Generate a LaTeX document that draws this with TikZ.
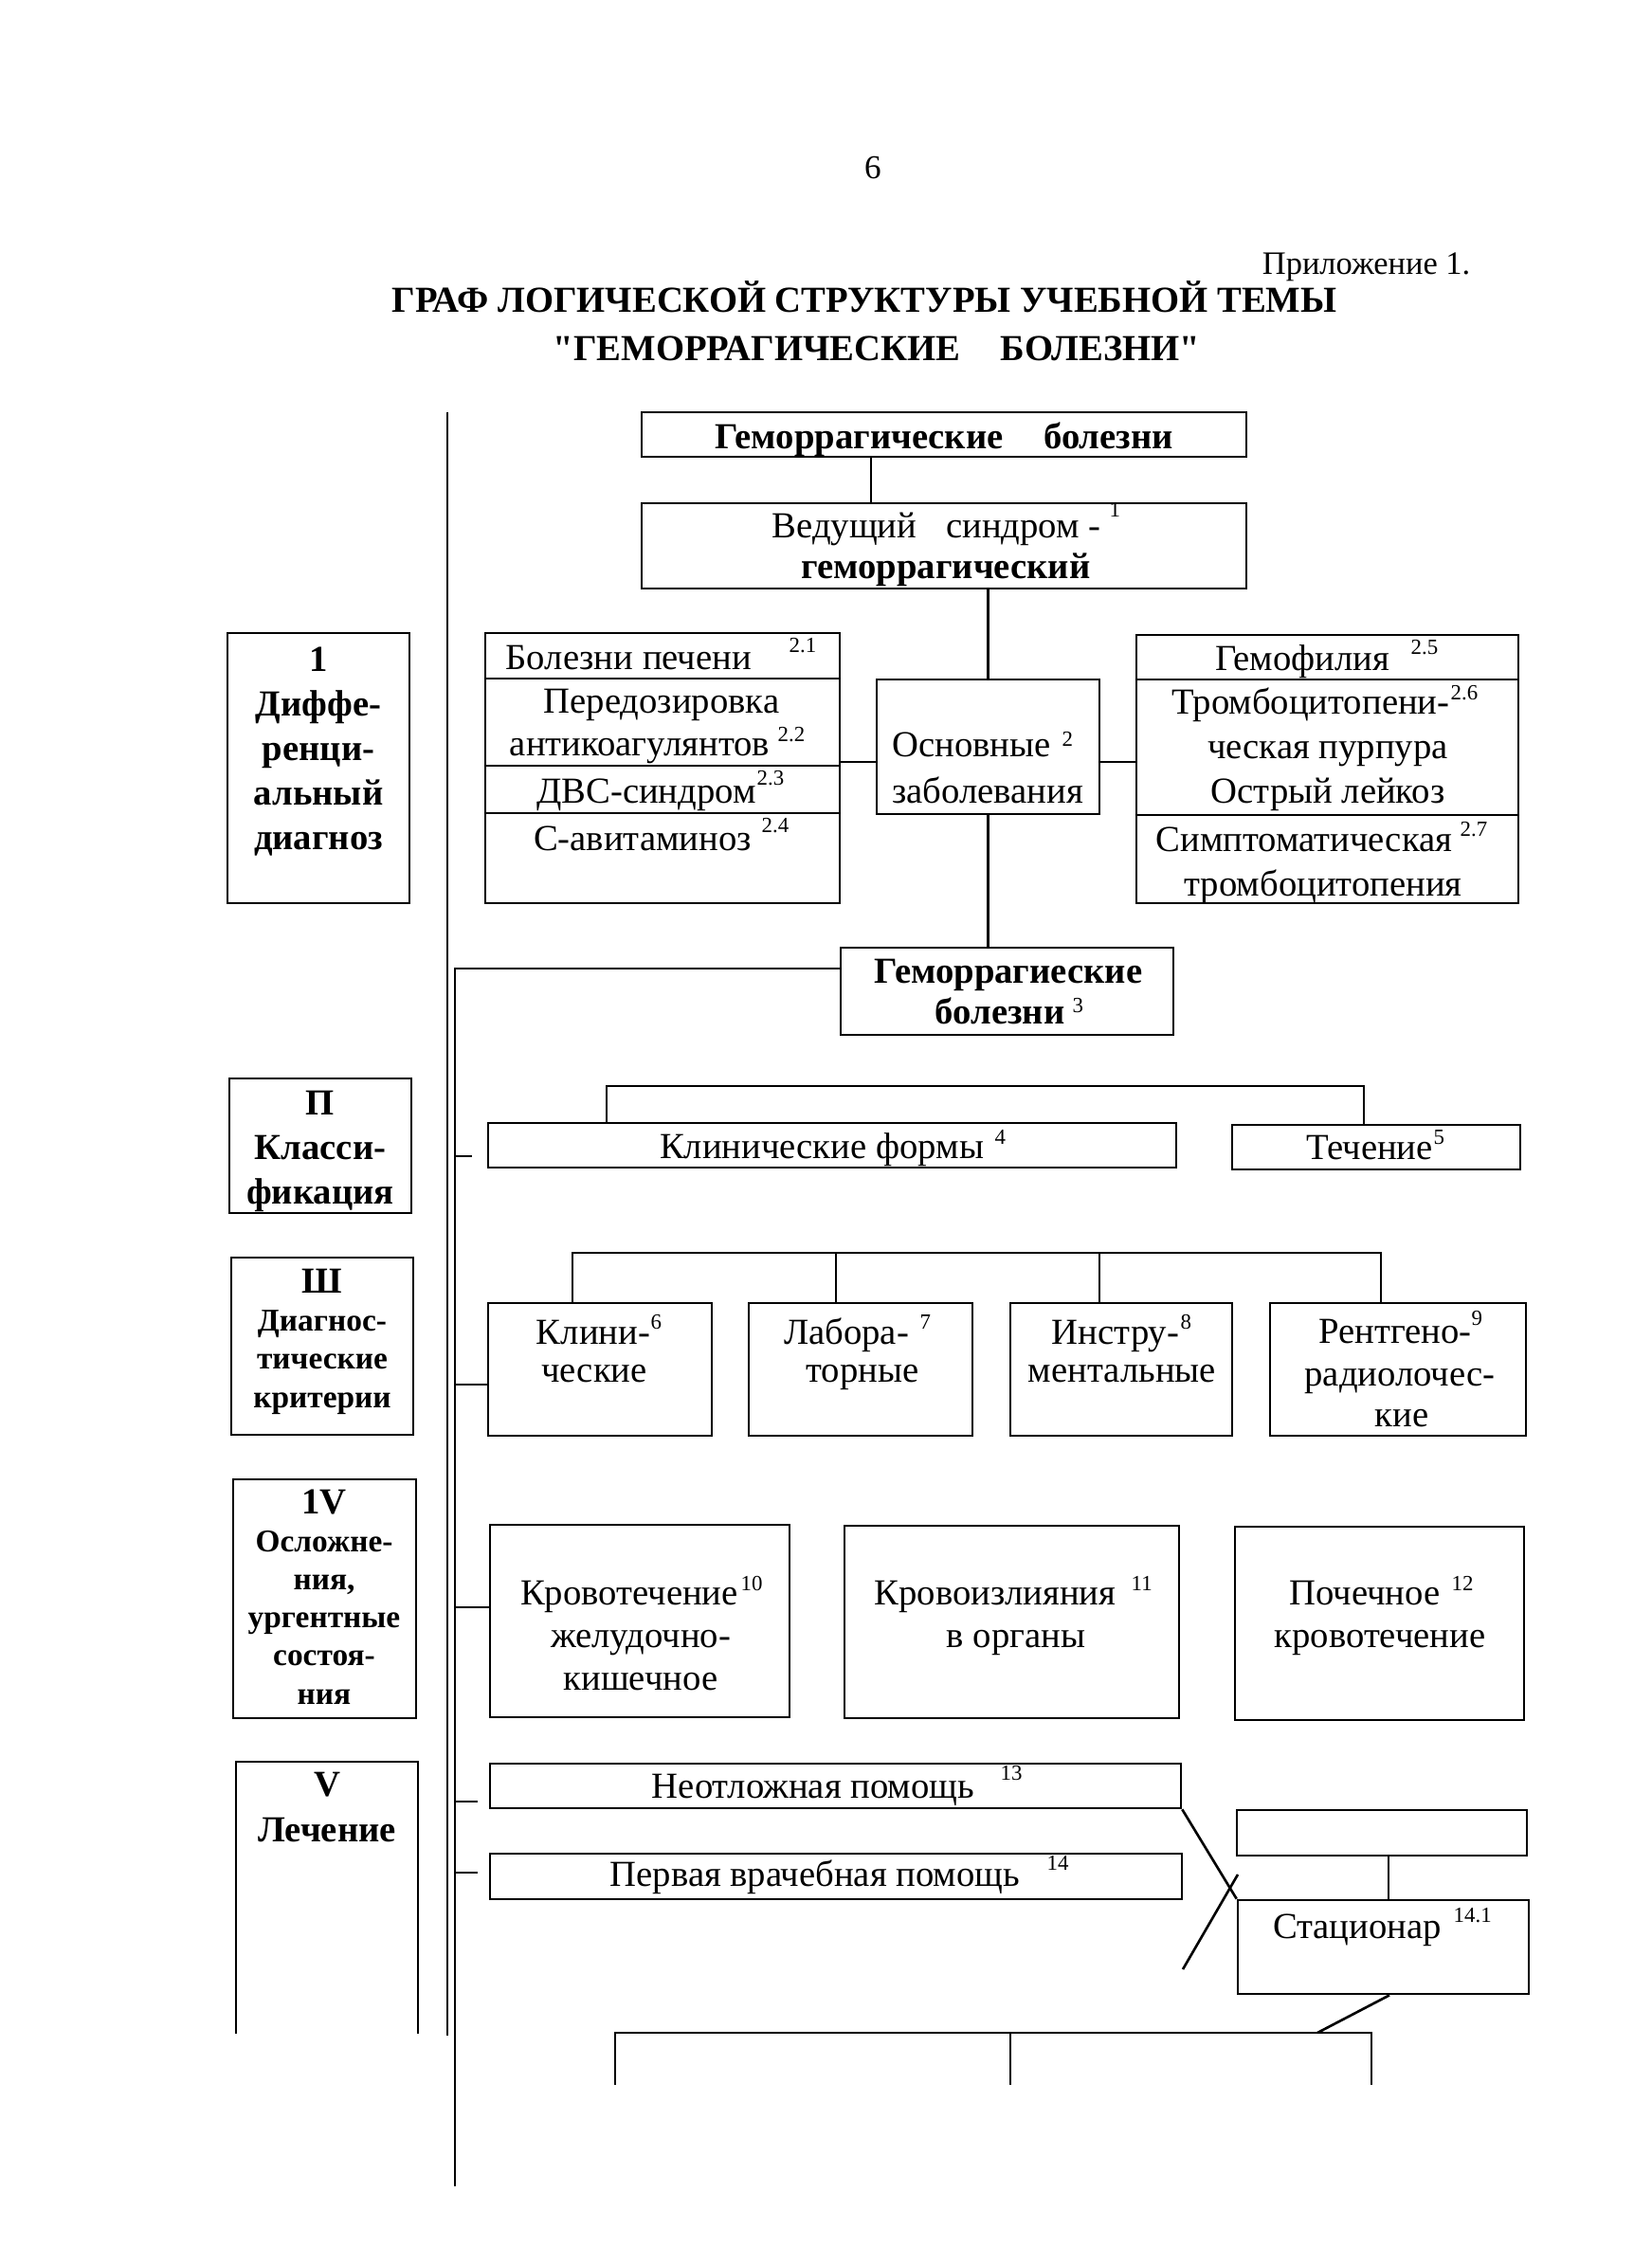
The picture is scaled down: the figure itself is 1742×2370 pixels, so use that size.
\documentclass[tikz,border=0pt]{standalone}
\usepackage{fontspec}
\setmainfont{Liberation Serif}
\newfontfamily\qf{Liberation Serif}
\usetikzlibrary{fit}
\newcommand\fsz[2]{\fontsize{#1}{#2}\selectfont}
\newcommand\qq{{\qf\bfseries"}}
\newcommand\bx[5]{\node[box, fit={(#2,#3) (#4,#5)}] (#1) {};}
\tikzset{
  ln/.style={line width=0.75pt},
  box/.style={draw, line width=0.75pt, inner sep=0pt},
  txt/.style={inner sep=0pt, align=center, anchor=base, font=\fsz{11}{13.3}},
  btxt/.style={txt, font=\bfseries\fsz{11}{13.3}},
  stxt/.style={txt, font=\bfseries\fsz{9.5}{11.4}},
  supnum/.style={inner sep=0pt, anchor=base west, font=\fsz{6.5}{7}},
}
\begin{document}
\begin{tikzpicture}[x=0.01cm, y=-0.01cm]
\useasboundingbox (0,0) rectangle (1742,2370);
\fill[white] (0,0) rectangle (1742,2370);

% header
\node[txt, font=\fsz{10}{12}] (pnum) at (921,189) {6};
\node[txt, font=\fsz{9.8}{12}, anchor=base east] (pril) at (1552,290) {Приложение 1.};
\node[txt, font=\bfseries\fsz{11}{14}] (title1) at (912,330) {ГРАФ ЛОГИЧЕСКОЙ СТРУКТУРЫ УЧЕБНОЙ ТЕМЫ};
\node[txt, font=\bfseries\fsz{11}{14}] (title2) at (925,380) {\qq ГЕМОРРАГИЧЕСКИЕ\hspace{1.1em}БОЛЕЗНИ\qq};

% top boxes
\bx{top}{677}{435}{1315}{482}
\node[btxt] (toptx) at (996,473) {Геморрагические\hspace{1.1em}болезни};
\bx{ved}{677}{531}{1315}{621}
\node[txt] (vedt1) at (988,567) {Ведущий\hspace{0.8em}синдром -};
\node[supnum] (s1) at (1170,545) {1};
\node[btxt] (vedt2) at (998,610) {геморрагический};

% left list
\bx{llist}{512}{668}{886}{953}
\coordinate (yd1) at (0,716); \coordinate (yd2) at (0,808); \coordinate (yd3) at (0,858);
\draw[ln] (yd1 -| llist.west) -- (yd1 -| llist.east);
\draw[ln] (yd2 -| llist.west) -- (yd2 -| llist.east);
\draw[ln] (yd3 -| llist.west) -- (yd3 -| llist.east);
\node[txt, anchor=base west] (l1) at (533,706) {Болезни печени};
\node[supnum] (s21) at (832,688) {2.1};
\node[txt] (l2a) at (698,752) {Передозировка};
\node[txt] (l2b) at (675,797) {антикоагулянтов};
\node[supnum] (s22) at (820,782) {2.2};
\node[txt] (l3) at (682,847) {ДВС-синдром};
\node[supnum] (s23) at (798,828) {2.3};
\node[txt] (l4) at (678,897) {С-авитаминоз};
\node[supnum] (s24) at (803,878) {2.4};

% main diseases
\bx{osn}{925}{717}{1160}{859}
\node[txt] (osn1) at (1025,798) {Основные};
\node[supnum] (s2) at (1120,787) {2};
\node[txt] (osn2) at (1042,847) {заболевания};

% right list
\bx{rlist}{1199}{670}{1602}{953}
\coordinate (ye1) at (0,717); \coordinate (ye2) at (0,860);
\draw[ln] (ye1 -| rlist.west) -- (ye1 -| rlist.east);
\draw[ln] (ye2 -| rlist.west) -- (ye2 -| rlist.east);
\node[txt] (r1) at (1374,707) {Гемофилия};
\node[supnum] (s25) at (1488,690) {2.5};
\node[txt] (r2a) at (1383,753) {Тромбоцитопени-};
\node[supnum] (s26) at (1530,738) {2.6};
\node[txt] (r2b) at (1401,800) {ческая пурпура};
\node[txt] (r2c) at (1401,847) {Острый лейкоз};
\node[txt] (r3a) at (1376,898) {Симптоматическая};
\node[supnum] (s27) at (1540,882) {2.7};
\node[txt] (r3b) at (1396,945) {тромбоцитопения};

% haemorrhagic diseases 3
\bx{gem}{887}{1000}{1238}{1092}
\node[btxt] (gem1) at (1064,1037) {Геморрагиеские};
\node[btxt] (gem2) at (1055,1080) {болезни};
\node[supnum] (s3) at (1131,1068) {3};

% left category boxes (anchor base = last line)
\bx{b1}{240}{668}{432}{953}
\node[btxt] (b1t) at (336,896) {1\\Диффе-\\ренци-\\альный\\диагноз};
\bx{b2}{242}{1138}{434}{1280}
\node[btxt] (b2t) at (338,1270) {П\\Класси-\\фикация};
\bx{b3}{244}{1327}{436}{1514}
\node[stxt] (b3t) at (340,1485) {{\fsz{11}{11.4}Ш}\\Диагнос-\\тические\\критерии};
\bx{b4}{246}{1561}{439}{1813}
\node[stxt] (b4t) at (342,1798) {{\fsz{11}{11.4}1V}\\Осложне-\\ния,\\ургентные\\состоя-\\ния};
\coordinate (v1) at (249,2146); \coordinate (v2) at (249,1859);
\coordinate (v3) at (441,1859); \coordinate (v4) at (441,2146);
\draw[ln] (v1) -- (v2) -- (v3) -- (v4);
\node[btxt, font=\bfseries\fsz{11}{13.6}] (b5t) at (345,1943) {V\\Лечение};

% classification
\bx{kf}{515}{1185}{1241}{1232}
\node[txt] (kft) at (867,1222) {Клинические формы};
\node[supnum] (s4) at (1049,1207) {4};
\bx{tech}{1300}{1187}{1604}{1234}
\node[txt] (techt) at (1445,1223) {Течение};
\node[supnum] (s5) at (1512,1207) {5};

% diagnostic criteria
\bx{c6}{515}{1375}{751}{1515}
\node[txt] (c6a) at (626,1418) {Клини-};
\node[txt] (c6b) at (627,1458) {ческие};
\node[supnum] (s6) at (686,1402) {6};
\bx{c7}{790}{1375}{1026}{1515}
\node[txt] (c7a) at (893,1418) {Лабора-};
\node[txt] (c7b) at (910,1458) {торные};
\node[supnum] (s7) at (970,1402) {7};
\bx{c8}{1066}{1375}{1300}{1515}
\node[txt] (c8a) at (1177,1418) {Инстру-};
\node[txt] (c8b) at (1184,1458) {ментальные};
\node[supnum] (s8) at (1245,1402) {8};
\bx{c9}{1340}{1375}{1610}{1515}
\node[txt] (c9a) at (1472,1417) {Рентгено-};
\node[txt] (c9b) at (1477,1462) {радиолочес-};
\node[txt] (c9c) at (1479,1505) {кие};
\node[supnum] (s9) at (1552,1398) {9};

% complications
\bx{k10}{517}{1609}{833}{1812}
\node[txt] (k10a) at (664,1693) {Кровотечение};
\node[txt] (k10b) at (676,1738) {желудочно-};
\node[txt] (k10c) at (676,1783) {кишечное};
\node[supnum] (s10) at (781,1678) {10};
\bx{k11}{891}{1610}{1244}{1813}
\node[txt] (k11a) at (1050,1693) {Кровоизлияния};
\node[txt] (k11b) at (1072,1738) {в органы};
\node[supnum] (s11) at (1193,1678) {11};
\bx{k12}{1303}{1611}{1608}{1815}
\node[txt] (k12a) at (1440,1693) {Почечное};
\node[txt] (k12b) at (1456,1738) {кровотечение};
\node[supnum] (s12) at (1531,1678) {12};

% treatment
\bx{neot}{517}{1861}{1246}{1908}
\node[txt] (neott) at (858,1897) {Неотложная помощь};
\node[supnum] (s13) at (1055,1878) {13};
\bx{perv}{517}{1956}{1247}{2004}
\node[txt] (pervt) at (860,1990) {Первая врачебная помощь};
\node[supnum] (s14) at (1104,1973) {14};
\bx{emp}{1305}{1910}{1611}{1958}
\bx{stac}{1306}{2005}{1613}{2104}
\node[txt] (stact) at (1432,2045) {Стационар};
\node[supnum] (s141) at (1533,2028) {14.1};

% connectors
\coordinate (xT) at (919,0);
\draw[ln] (xT |- top.south) -- (xT |- ved.north);
\draw[ln] (osn.north |- ved.south) -- (osn.north);
\draw[ln] (osn.south) -- (osn.south |- gem.north);
\coordinate (yL) at (0,804);
\draw[ln] (yL -| llist.east) -- (yL -| osn.west);
\draw[ln] (yL -| osn.east) -- (yL -| rlist.west);

\coordinate (A1) at (472,435); \coordinate (A2) at (472,2148);
\coordinate (B1) at (480,1022); \coordinate (B2) at (480,2307);
\draw[ln] (A1) -- (A2);
\draw[ln] (gem.west |- B1) -- (B1) -- (B2);

\coordinate (k1) at (640,1146); \coordinate (k2) at (1439,1146);
\draw[ln] (k1 |- kf.north) -- (k1) -- (k2) -- (k2 |- tech.north);

\coordinate (d1) at (604,1322); \coordinate (d2) at (882,1322);
\coordinate (d3) at (1160,1322); \coordinate (d4) at (1457,1322);
\draw[ln] (d1 |- c6.north) -- (d1) -- (d4) -- (d4 |- c9.north);
\draw[ln] (d2) -- (d2 |- c7.north);
\draw[ln] (d3) -- (d3 |- c8.north);

\coordinate (t2) at (480,1220); \coordinate (t2e) at (498,1220);
\draw[ln] (t2) -- (t2e);
\coordinate (t3) at (480,1461);
\draw[ln] (t3) -- (t3 -| c6.west);
\coordinate (t4) at (480,1696);
\draw[ln] (t4) -- (t4 -| k10.west);
\coordinate (t5) at (480,1901); \coordinate (t5e) at (504,1901);
\draw[ln] (t5) -- (t5e);
\coordinate (t6) at (480,1976); \coordinate (t6e) at (504,1976);
\draw[ln] (t6) -- (t6e);

\draw[ln] (neot.south east) -- (stac.north west);
\coordinate (xl1) at (1248,2078); \coordinate (xl2) at (1306,1978);
\draw[ln] (xl1) -- (xl2);
\coordinate (xs) at (1465,0);
\draw[ln] (xs |- emp.south) -- (xs |- stac.north);
\coordinate (sb) at (1466,0); \coordinate (bb) at (1390,2145);
\draw[ln] (sb |- stac.south) -- (bb);
\coordinate (bl) at (649,2145); \coordinate (br) at (1447,2145);
\coordinate (bm) at (1066,2145);
\coordinate (bl2) at (649,2200); \coordinate (br2) at (1447,2200);
\coordinate (bm2) at (1066,2200);
\draw[ln] (bl2) -- (bl) -- (br) -- (br2);
\draw[ln] (bm) -- (bm2);
\end{tikzpicture}
\end{document}
